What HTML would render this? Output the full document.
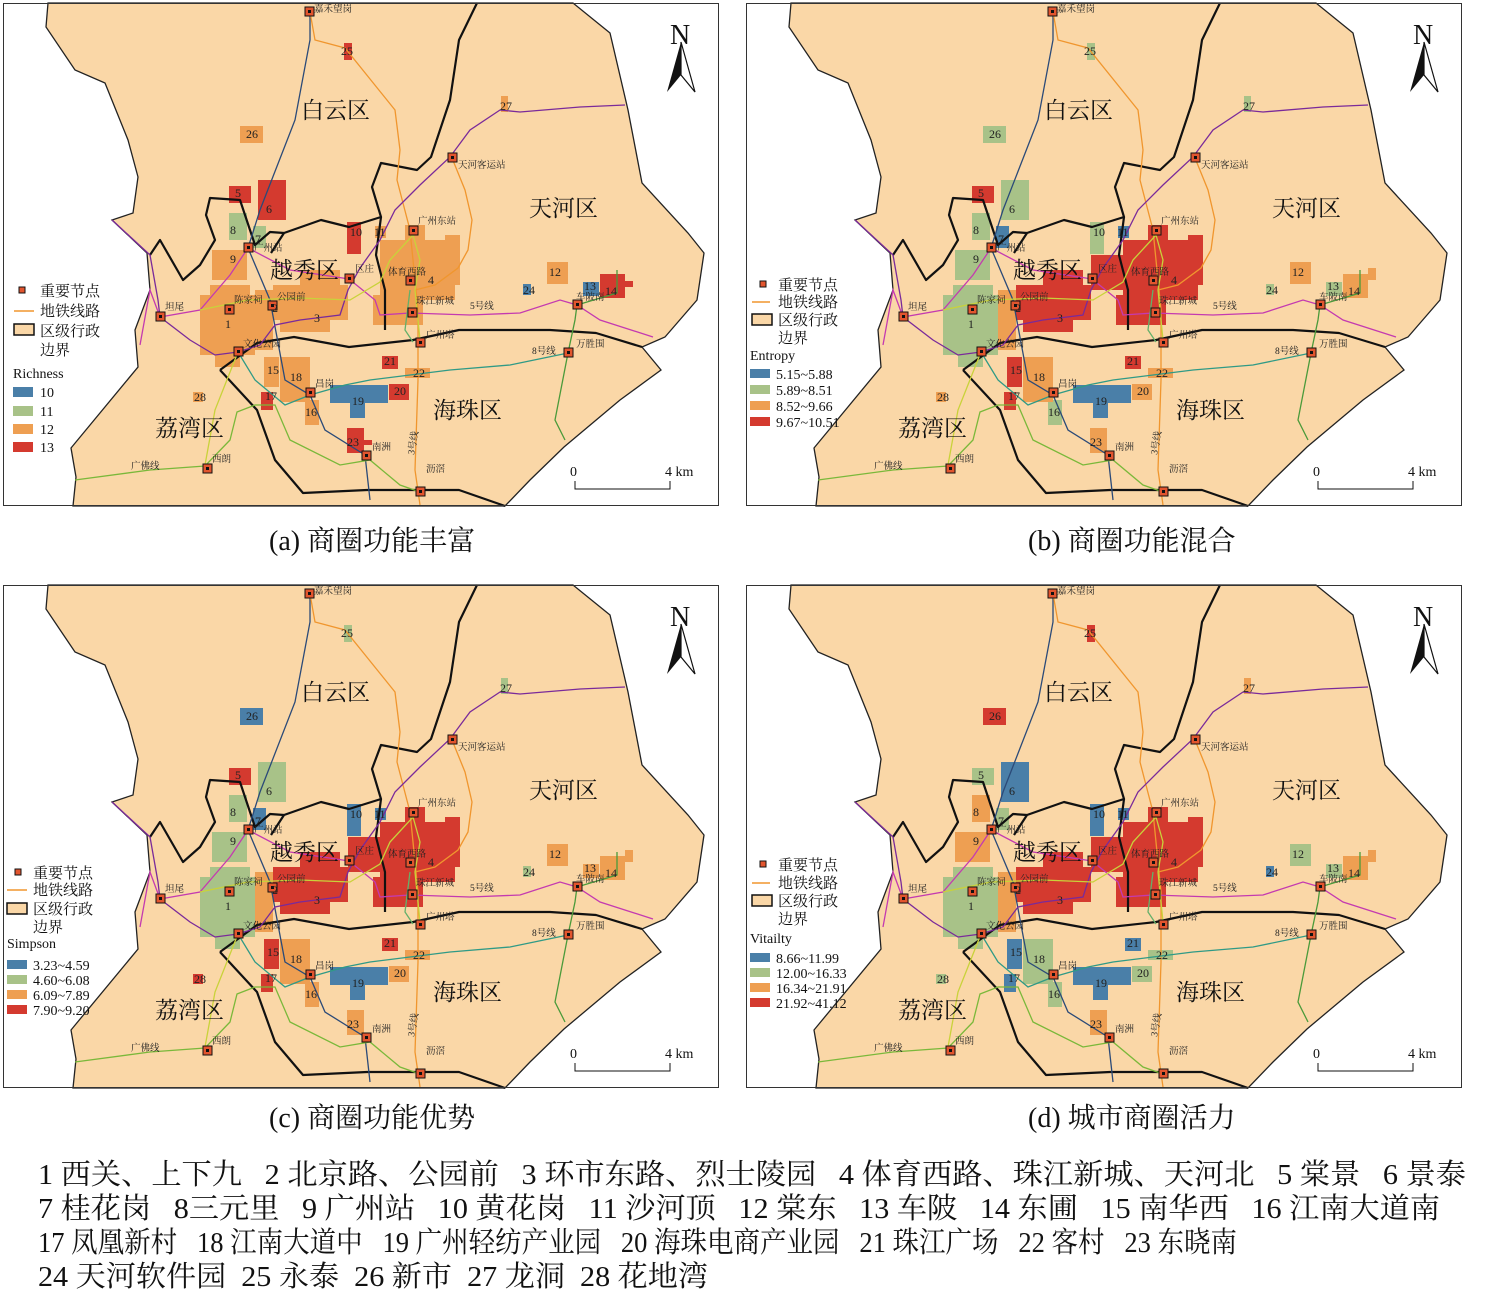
<!DOCTYPE html>
<html><head><meta charset="utf-8">
<style>
html,body{margin:0;padding:0;background:#fff;}
svg{display:block;}
.s{font-family:"Liberation Serif","Noto Serif CJK SC",serif;}
.pre{white-space:pre;}
</style></head>
<body>
<svg width="1500" height="1306" viewBox="0 0 1500 1306" xmlns="http://www.w3.org/2000/svg" class="s">
<defs>
<g id="land">
<rect x="3" y="3" width="716" height="503" fill="#fff"/>
<path d="M48,3 L46,27 L75,70 L105,83 L128,140 L138,177 L133,213 L112,220 L147,253 L150,290 L135,330 L138,367 L71,448 L76,477 L73,506 L505,506 L530,480 L564,447 L620,400 L661,370 L642,347 L665,337 L697,300 L704,253 L688,233 L642,183 L628,110 L610,33 L573,3 Z" fill="#fad7a7" stroke="#222" stroke-width="1.3"/>
</g>
<g id="over">
<g fill="none" stroke="#111" stroke-width="2.2" stroke-linejoin="round">
<path d="M477,3 L459,40 L450,100 L431,157 L417,170 L381,163 L372,187 L381,217 L349,227 L321,220 L284,233 L271,253"/>
<path d="M284,233 L270,232 L255,245 L240,200 L210,198 L206,215 L215,240 L200,265 L183,280 L160,240 L150,255"/>
<path d="M220,370 L257,343 L294,337 L349,347 L413,340 L459,330 L550,330 L596,333 L642,347"/>
<path d="M220,370 L257,410 L275,460 L303,493 L367,490 L459,490 L505,506"/>
<path d="M381,217 L376,255 L385,290 L385,330"/>
</g>
<g fill="none" stroke-width="1.3">
<path d="M310,12 L310,40 L295,120 L260,210 L248,248 L270,300 L285,380 L310,395 L325,430 L365,455 L370,500" stroke="#2b4a78"/>
<path d="M310,12 L315,40 L345,48 L395,110 L400,150 L397,180 L410,230 L418,310 L418,380 L415,470 L420,505" stroke="#f0962e"/>
<path d="M452,158 L465,190 L472,220 L468,250 L458,268 L435,285 L415,290" stroke="#f0962e"/>
<path d="M112,220 L150,255 L158,300 L160,317 L190,340 L215,355 L238,352 L260,345 L275,325 L300,320 L340,315 L348,290 L360,268 L380,240 L395,210 L420,185 L450,157 L470,130 L500,110 L520,112 L580,107 L625,105" stroke="#7a2a9a"/>
<path d="M140,345 L150,290 L160,317 L200,310 L230,275 L248,248 L290,270 L349,279 L375,300 L380,315 L410,313 L470,315 L520,313 L560,300 L577,305 L600,320 L653,337" stroke="#c43ab0"/>
<path d="M200,310 L248,300 L300,298 L350,300 L380,282 L390,260 L413,235 L420,260 L415,290 L420,340" stroke="#c9d23a"/>
<path d="M238,352 L215,410 L205,465" stroke="#c9d23a"/>
<path d="M75,480 L150,470 L205,466 L230,440 L237,412 L255,405 L275,405 L290,440 L340,465 L370,460 L400,485 L420,492" stroke="#7ab83a"/>
<path d="M238,352 L255,380 L285,405 L310,395 L345,385 L370,380 L450,370 L510,365 L568,353" stroke="#2f9a86"/>
<path d="M565,440 L555,420 L568,353 L575,320 L577,305 L617,293 L617,270" stroke="#4a9a3a"/>
<path d="M410,290 L405,330 L413,342" stroke="#64b06a"/>
</g>
<g fill="#e2552e" stroke="#111" stroke-width="1">
<rect x="305" y="7" width="9" height="9"/><rect x="448" y="153" width="9" height="9"/><rect x="409" y="226" width="9" height="9"/><rect x="244" y="243" width="9" height="9"/><rect x="345" y="274" width="9" height="9"/><rect x="406" y="276" width="9" height="9"/><rect x="156" y="312" width="9" height="9"/><rect x="225" y="305" width="9" height="9"/><rect x="268" y="301" width="9" height="9"/><rect x="408" y="308" width="9" height="9"/><rect x="234" y="347" width="9" height="9"/><rect x="416" y="338" width="9" height="9"/><rect x="573" y="300" width="9" height="9"/><rect x="564" y="348" width="9" height="9"/><rect x="306" y="388" width="9" height="9"/><rect x="362" y="451" width="9" height="9"/><rect x="203" y="464" width="9" height="9"/><rect x="416" y="487" width="9" height="9"/>
</g>
<g fill="#111">
<rect x="308" y="10" width="3" height="3"/><rect x="451" y="156" width="3" height="3"/><rect x="412" y="229" width="3" height="3"/><rect x="247" y="246" width="3" height="3"/><rect x="348" y="277" width="3" height="3"/><rect x="409" y="279" width="3" height="3"/><rect x="159" y="315" width="3" height="3"/><rect x="228" y="308" width="3" height="3"/><rect x="271" y="304" width="3" height="3"/><rect x="411" y="311" width="3" height="3"/><rect x="237" y="350" width="3" height="3"/><rect x="419" y="341" width="3" height="3"/><rect x="576" y="303" width="3" height="3"/><rect x="567" y="351" width="3" height="3"/><rect x="309" y="391" width="3" height="3"/><rect x="365" y="454" width="3" height="3"/><rect x="206" y="467" width="3" height="3"/><rect x="419" y="490" width="3" height="3"/>
</g>
<g font-size="9.5" fill="#222">
<text x="314" y="12">嘉禾望岗</text><text x="458" y="168">天河客运站</text><text x="418" y="224">广州东站</text><text x="254" y="251">广州站</text><text x="355" y="272">区庄</text><text x="388" y="275">体育西路</text><text x="165" y="310">坦尾</text><text x="234" y="303">陈家祠</text><text x="277" y="300">公园前</text><text x="416" y="304">珠江新城</text><text x="243" y="347">文化公园</text><text x="426" y="338">广州塔</text><text x="576" y="300">车陂南</text><text x="576" y="347">万胜围</text><text x="315" y="387">昌岗</text><text x="372" y="450">南洲</text><text x="212" y="462">西朗</text><text x="426" y="472">沥滘</text>
<text x="131" y="469">广佛线</text><text x="470" y="309">5号线</text><text x="532" y="354">8号线</text><text x="414" y="455" transform="rotate(-80 414 455)">3号线</text>
</g>
<g font-size="12" fill="#222">
<text x="225" y="328">1</text><text x="272" y="312">2</text><text x="314" y="322">3</text><text x="428" y="284">4</text><text x="235" y="197">5</text><text x="266" y="213">6</text><text x="255" y="243">7</text><text x="230" y="234">8</text><text x="230" y="263">9</text><text x="350" y="236">10</text><text x="374" y="236">11</text><text x="549" y="276">12</text><text x="584" y="290">13</text><text x="605" y="295">14</text><text x="267" y="374">15</text><text x="305" y="416">16</text><text x="265" y="400">17</text><text x="290" y="381">18</text><text x="352" y="405">19</text><text x="394" y="395">20</text><text x="384" y="365">21</text><text x="413" y="377">22</text><text x="347" y="446">23</text><text x="523" y="294">24</text><text x="341" y="55">25</text><text x="246" y="138">26</text><text x="500" y="110">27</text><text x="194" y="401">28</text>
</g>
<g font-size="23" fill="#111">
<text x="301" y="118">白云区</text><text x="529" y="216">天河区</text><text x="270" y="278">越秀区</text><text x="433" y="418">海珠区</text><text x="155" y="436">荔湾区</text>
</g>
<text x="670" y="44" font-size="28" fill="#111">N</text>
<path d="M681,42 L667,92 L681,75 Z" fill="#111"/>
<path d="M681,42 L695,92 L681,75 Z" fill="#fff" stroke="#111" stroke-width="1.2"/>
<text x="570" y="476" font-size="14" fill="#111">0</text><text x="665" y="476" font-size="14" fill="#111">4 km</text>
<path d="M575,481 V489 H670 V481" fill="none" stroke="#111" stroke-width="1"/>
<rect x="3.5" y="3.5" width="715" height="502" fill="none" stroke="#333" stroke-width="1"/>
</g>
</defs>

<!-- Panel a -->
<g>
<use href="#land"/>
<g>
<g fill="#ee9f52"><rect x="200" y="295" width="55" height="60"/><rect x="210" y="285" width="40" height="12"/><rect x="215" y="355" width="25" height="12"/><rect x="255" y="290" width="18" height="60"/><rect x="273" y="285" width="75" height="35"/><rect x="280" y="320" width="50" height="12"/><rect x="300" y="270" width="40" height="18"/><rect x="380" y="240" width="75" height="60"/><rect x="373" y="295" width="50" height="30"/><rect x="405" y="225" width="20" height="20"/><rect x="445" y="235" width="15" height="50"/><rect x="212" y="250" width="35" height="30"/><rect x="375" y="226" width="11" height="12"/><rect x="547" y="262" width="21" height="22"/><rect x="264" y="357" width="15" height="30"/><rect x="280" y="357" width="30" height="45"/><rect x="305" y="400" width="14" height="25"/><rect x="405" y="368" width="25" height="10"/><rect x="240" y="126" width="23" height="17"/><rect x="501" y="96" width="7" height="16"/><rect x="193" y="392" width="10" height="10"/></g>
<g fill="#a8c288"><rect x="229" y="213" width="18" height="27"/><rect x="253" y="226" width="13" height="22"/></g>
<g fill="#d43a2f"><rect x="229" y="186" width="22" height="17"/><rect x="258" y="180" width="28" height="40"/><rect x="347" y="222" width="14" height="32"/><rect x="600" y="274" width="25" height="24"/><rect x="625" y="281" width="8" height="6"/><rect x="261" y="392" width="12" height="18"/><rect x="389" y="384" width="20" height="16"/><rect x="382" y="356" width="16" height="13"/><rect x="347" y="428" width="17" height="25"/><rect x="364" y="440" width="8" height="5"/><rect x="344" y="43" width="8" height="17"/></g>
<g fill="#4a7fa8"><rect x="523" y="284" width="8" height="11"/><rect x="583" y="282" width="16" height="14"/><rect x="330" y="385" width="58" height="18"/><rect x="350" y="403" width="15" height="15"/></g>
</g>
<use href="#over"/>
<g font-size="15" fill="#111">
<rect x="19" y="287" width="6" height="6" fill="#e2552e" stroke="#111"/>
<text x="40" y="296">重要节点</text>
<line x1="14" y1="311" x2="34" y2="311" stroke="#f0962e" stroke-width="1.5"/><text x="40" y="316">地铁线路</text>
<rect x="14" y="324" width="20" height="11" fill="#fad7a7" stroke="#111" stroke-width="1.5"/><text x="40" y="336">区级行政</text><text x="40" y="355">边界</text>
<text x="13" y="378" font-size="14">Richness</text>
<rect x="13" y="387" width="20" height="10" fill="#4a7fa8"/><text x="40" y="397" font-size="14">10</text>
<rect x="13" y="406" width="20" height="10" fill="#a8c288"/><text x="40" y="416" font-size="14">11</text>
<rect x="13" y="424" width="20" height="10" fill="#ee9f52"/><text x="40" y="434" font-size="14">12</text>
<rect x="13" y="442" width="20" height="10" fill="#d43a2f"/><text x="40" y="452" font-size="14">13</text>
</g>
</g>

<!-- Panel b -->
<g transform="translate(743,0)">
<use href="#land"/>
<g>
<g fill="#a8c288"><rect x="200" y="295" width="55" height="60"/><rect x="210" y="285" width="40" height="12"/><rect x="215" y="355" width="25" height="12"/><rect x="212" y="250" width="35" height="30"/><rect x="229" y="213" width="18" height="27"/><rect x="258" y="180" width="28" height="40"/><rect x="347" y="222" width="14" height="32"/><rect x="583" y="282" width="16" height="14"/><rect x="523" y="284" width="8" height="11"/><rect x="305" y="400" width="14" height="25"/><rect x="344" y="43" width="8" height="17"/><rect x="240" y="126" width="23" height="17"/><rect x="501" y="96" width="7" height="16"/></g>
<g fill="#ee9f52"><rect x="255" y="290" width="18" height="60"/><rect x="547" y="262" width="21" height="22"/><rect x="600" y="274" width="25" height="24"/><rect x="625" y="268" width="8" height="12"/><rect x="280" y="357" width="30" height="45"/><rect x="389" y="384" width="20" height="16"/><rect x="405" y="368" width="25" height="10"/><rect x="347" y="428" width="17" height="25"/><rect x="193" y="392" width="10" height="10"/></g>
<g fill="#d43a2f"><rect x="273" y="285" width="75" height="35"/><rect x="280" y="320" width="50" height="12"/><rect x="300" y="270" width="40" height="18"/><rect x="348" y="255" width="32" height="35"/><rect x="380" y="240" width="75" height="60"/><rect x="373" y="295" width="50" height="30"/><rect x="405" y="225" width="20" height="20"/><rect x="445" y="235" width="15" height="50"/><rect x="229" y="186" width="22" height="17"/><rect x="264" y="357" width="15" height="30"/><rect x="261" y="392" width="12" height="18"/><rect x="382" y="356" width="16" height="13"/></g>
<g fill="#4a7fa8"><rect x="253" y="226" width="13" height="22"/><rect x="375" y="226" width="11" height="12"/><rect x="330" y="385" width="58" height="18"/><rect x="350" y="403" width="15" height="15"/></g>
</g>
<use href="#over"/>
</g>
<g font-size="15" fill="#111">
<rect x="760" y="281" width="6" height="6" fill="#e2552e" stroke="#111"/>
<text x="778" y="290">重要节点</text>
<line x1="752" y1="302" x2="770" y2="302" stroke="#f0962e" stroke-width="1.5"/><text x="778" y="307">地铁线路</text>
<rect x="752" y="314" width="20" height="11" fill="#fad7a7" stroke="#111" stroke-width="1.5"/><text x="778" y="325">区级行政</text><text x="778" y="343">边界</text>
<text x="750" y="360" font-size="14">Entropy</text>
<rect x="750" y="369" width="20" height="9" fill="#4a7fa8"/><text x="776" y="379" font-size="14">5.15~5.88</text>
<rect x="750" y="385" width="20" height="9" fill="#a8c288"/><text x="776" y="395" font-size="14">5.89~8.51</text>
<rect x="750" y="401" width="20" height="9" fill="#ee9f52"/><text x="776" y="411" font-size="14">8.52~9.66</text>
<rect x="750" y="417" width="20" height="9" fill="#d43a2f"/><text x="776" y="427" font-size="14">9.67~10.51</text>
</g>

<!-- Panel c -->
<g transform="translate(0,582)">
<use href="#land"/>
<g>
<g fill="#a8c288"><rect x="200" y="295" width="55" height="60"/><rect x="210" y="285" width="40" height="12"/><rect x="215" y="355" width="25" height="12"/><rect x="212" y="250" width="35" height="30"/><rect x="229" y="213" width="18" height="27"/><rect x="258" y="180" width="28" height="40"/><rect x="523" y="284" width="8" height="11"/><rect x="344" y="43" width="8" height="17"/><rect x="501" y="96" width="7" height="16"/></g>
<g fill="#ee9f52"><rect x="255" y="290" width="18" height="60"/><rect x="547" y="262" width="21" height="22"/><rect x="583" y="282" width="16" height="14"/><rect x="600" y="274" width="25" height="24"/><rect x="625" y="268" width="8" height="12"/><rect x="280" y="357" width="30" height="45"/><rect x="305" y="400" width="14" height="25"/><rect x="389" y="384" width="20" height="16"/><rect x="405" y="368" width="25" height="10"/><rect x="347" y="428" width="17" height="25"/></g>
<g fill="#d43a2f"><rect x="273" y="285" width="75" height="35"/><rect x="280" y="320" width="50" height="12"/><rect x="300" y="270" width="40" height="18"/><rect x="348" y="255" width="32" height="35"/><rect x="380" y="240" width="75" height="60"/><rect x="373" y="295" width="50" height="30"/><rect x="405" y="225" width="20" height="20"/><rect x="445" y="235" width="15" height="50"/><rect x="229" y="186" width="22" height="17"/><rect x="264" y="357" width="15" height="30"/><rect x="261" y="392" width="12" height="18"/><rect x="382" y="356" width="16" height="13"/><rect x="193" y="392" width="10" height="10"/></g>
<g fill="#4a7fa8"><rect x="253" y="226" width="13" height="22"/><rect x="347" y="222" width="14" height="32"/><rect x="375" y="226" width="11" height="12"/><rect x="330" y="385" width="58" height="18"/><rect x="350" y="403" width="15" height="15"/><rect x="240" y="126" width="23" height="17"/></g>
</g>
<use href="#over"/>
</g>
<g font-size="15" fill="#111">
<rect x="15" y="869" width="6" height="6" fill="#e2552e" stroke="#111"/>
<text x="33" y="878">重要节点</text>
<line x1="7" y1="890" x2="27" y2="890" stroke="#f0962e" stroke-width="1.5"/><text x="33" y="895">地铁线路</text>
<rect x="7" y="903" width="20" height="11" fill="#fad7a7" stroke="#111" stroke-width="1.5"/><text x="33" y="914">区级行政</text><text x="33" y="932">边界</text>
<text x="7" y="948" font-size="14">Simpson</text>
<rect x="7" y="960" width="20" height="9" fill="#4a7fa8"/><text x="33" y="970" font-size="14">3.23~4.59</text>
<rect x="7" y="975" width="20" height="9" fill="#a8c288"/><text x="33" y="985" font-size="14">4.60~6.08</text>
<rect x="7" y="990" width="20" height="9" fill="#ee9f52"/><text x="33" y="1000" font-size="14">6.09~7.89</text>
<rect x="7" y="1005" width="20" height="9" fill="#d43a2f"/><text x="33" y="1015" font-size="14">7.90~9.20</text>
</g>

<!-- Panel d -->
<g transform="translate(743,582)">
<use href="#land"/>
<g>
<g fill="#a8c288"><rect x="200" y="295" width="55" height="60"/><rect x="210" y="285" width="40" height="12"/><rect x="215" y="355" width="25" height="12"/><rect x="253" y="226" width="13" height="22"/><rect x="229" y="186" width="22" height="17"/><rect x="547" y="262" width="21" height="22"/><rect x="583" y="282" width="16" height="14"/><rect x="280" y="357" width="30" height="45"/><rect x="305" y="400" width="14" height="25"/><rect x="389" y="384" width="20" height="16"/><rect x="405" y="368" width="25" height="10"/><rect x="193" y="392" width="10" height="10"/></g>
<g fill="#ee9f52"><rect x="255" y="290" width="18" height="60"/><rect x="212" y="250" width="35" height="30"/><rect x="229" y="213" width="18" height="27"/><rect x="600" y="274" width="25" height="24"/><rect x="625" y="268" width="8" height="12"/><rect x="347" y="428" width="17" height="25"/><rect x="501" y="96" width="7" height="16"/></g>
<g fill="#d43a2f"><rect x="273" y="285" width="75" height="35"/><rect x="280" y="320" width="50" height="12"/><rect x="300" y="270" width="40" height="18"/><rect x="348" y="255" width="32" height="35"/><rect x="380" y="240" width="75" height="60"/><rect x="373" y="295" width="50" height="30"/><rect x="405" y="225" width="20" height="20"/><rect x="445" y="235" width="15" height="50"/><rect x="344" y="43" width="8" height="17"/><rect x="240" y="126" width="23" height="17"/></g>
<g fill="#4a7fa8"><rect x="258" y="180" width="28" height="40"/><rect x="347" y="222" width="14" height="32"/><rect x="375" y="226" width="11" height="12"/><rect x="523" y="284" width="8" height="11"/><rect x="264" y="357" width="15" height="30"/><rect x="261" y="392" width="12" height="18"/><rect x="382" y="356" width="16" height="13"/><rect x="330" y="385" width="58" height="18"/><rect x="350" y="403" width="15" height="15"/></g>
</g>
<use href="#over"/>
</g>
<g font-size="15" fill="#111">
<rect x="760" y="861" width="6" height="6" fill="#e2552e" stroke="#111"/>
<text x="778" y="870">重要节点</text>
<line x1="752" y1="883" x2="770" y2="883" stroke="#f0962e" stroke-width="1.5"/><text x="778" y="888">地铁线路</text>
<rect x="752" y="895" width="20" height="11" fill="#fad7a7" stroke="#111" stroke-width="1.5"/><text x="778" y="906">区级行政</text><text x="778" y="924">边界</text>
<text x="750" y="943" font-size="14">Vitailty</text>
<rect x="750" y="953" width="20" height="9" fill="#4a7fa8"/><text x="776" y="963" font-size="14">8.66~11.99</text>
<rect x="750" y="968" width="20" height="9" fill="#a8c288"/><text x="776" y="978" font-size="14">12.00~16.33</text>
<rect x="750" y="983" width="20" height="9" fill="#ee9f52"/><text x="776" y="993" font-size="14">16.34~21.91</text>
<rect x="750" y="998" width="20" height="9" fill="#d43a2f"/><text x="776" y="1008" font-size="14">21.92~41.12</text>
</g>

<g font-size="28" fill="#111">
<text x="269" y="550">(a) 商圈功能丰富</text>
<text x="1028" y="550">(b) 商圈功能混合</text>
<text x="269" y="1127">(c) 商圈功能优势</text>
<text x="1028" y="1127">(d) 城市商圈活力</text>
</g>
<g font-size="29" fill="#111" class="pre">
<text class="pre" x="38" y="1184" textLength="1428" lengthAdjust="spacingAndGlyphs">1 西关、上下九   2 北京路、公园前   3 环市东路、烈士陵园   4 体育西路、珠江新城、天河北   5 棠景   6 景泰</text>
<text class="pre" x="38" y="1218" textLength="1402" lengthAdjust="spacingAndGlyphs">7 桂花岗   8三元里   9 广州站   10 黄花岗   11 沙河顶   12 棠东   13 车陂   14 东圃   15 南华西   16 江南大道南</text>
<text class="pre" x="38" y="1252" textLength="1199" lengthAdjust="spacingAndGlyphs">17 凤凰新村   18 江南大道中   19 广州轻纺产业园   20 海珠电商产业园   21 珠江广场   22 客村   23 东晓南</text>
<text class="pre" x="38" y="1286" textLength="670" lengthAdjust="spacingAndGlyphs">24 天河软件园  25 永泰  26 新市  27 龙洞  28 花地湾</text>
</g>
</svg>
</body></html>
